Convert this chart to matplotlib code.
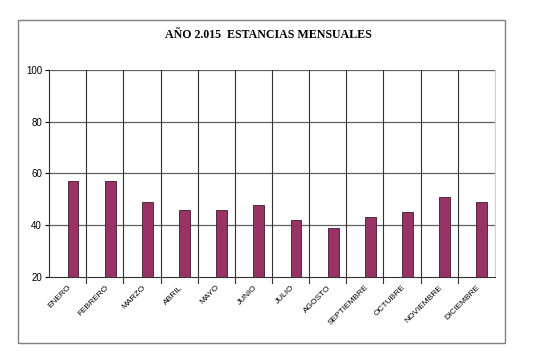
"""Monthly stays chart, year 2015."""
import numpy as np
import matplotlib

matplotlib.use("Agg")
import matplotlib.pyplot as plt  # noqa: E402
from matplotlib.patches import Rectangle  # noqa: E402

months = ["ENERO", "FEBRERO", "MARZO", "ABRIL", "MAYO", "JUNIO", "JULIO",
          "AGOSTO", "SEPTIEMBRE", "OCTUBRE", "NOVIEMBRE", "DICIEMBRE"]
stays = [57, 57, 49, 46, 46, 48, 42, 39, 43, 45, 51, 49]
y_ticks = [20, 40, 60, 80, 100]

fig = plt.figure(figsize=(5.43, 3.62), dpi=100)
fig.patches.append(Rectangle((18 / 543, 1 - 343 / 362), 487 / 543, 323 / 362,
                             transform=fig.transFigure, fill=False,
                             edgecolor="#808080", linewidth=1.0))
fig.text(268 / 543, 1 - 35 / 362, "AÑO 2.015  ESTANCIAS MENSUALES",
         ha="center", va="center", family="Liberation Serif",
         fontweight="bold", fontsize=8.6)

ax = fig.add_axes([49 / 543, 1 - 277 / 362, 446 / 543, 207 / 362])
x = np.arange(len(months))
ax.bar(x, stays, width=0.29, align="edge", bottom=0, color="#993366",
       edgecolor="#3a1a2a", linewidth=0.6, zorder=3)
ax.set_xlim(-0.5, len(months) - 0.5)
ax.set_ylim(20, 100)

ax.set_yticks(y_ticks)
ax.set_yticklabels([str(v) for v in y_ticks], family="Liberation Sans", fontsize=7)
ax.set_xticks(x)
ax.set_xticklabels(months, rotation=45, ha="right", rotation_mode="anchor",
                   family="Liberation Sans", fontsize=6)
ax.tick_params(axis="x", length=0, pad=5)
ax.tick_params(axis="y", length=3, width=0.8, pad=2)

for v in y_ticks[1:]:
    ax.axhline(v, color="#606060", linewidth=0.9, zorder=1)
for b in np.arange(0.5, len(months) - 0.5, 1.0):
    ax.axvline(b, color="#333333", linewidth=0.8, zorder=1)
    ax.plot([b, b], [20, 17.8], color="#333333", linewidth=0.8,
            clip_on=False, zorder=1)

ax.spines["top"].set_visible(False)
ax.spines["right"].set_color("#d0d0d0")
ax.spines["left"].set_color("#333333")
ax.spines["bottom"].set_color("#333333")

fig.savefig("out.png", dpi=100)
